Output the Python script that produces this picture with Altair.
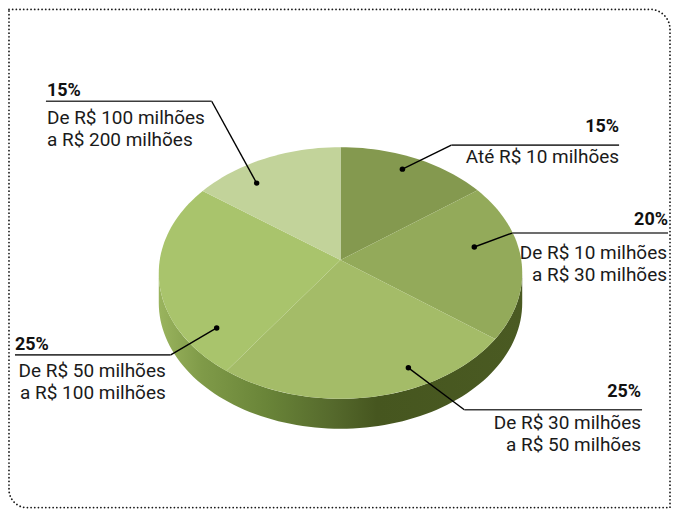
import math
import altair as alt
import pandas as pd

# values
categories = ["Até R$ 10 milhões", "De R$ 10 milhões a R$ 30 milhões", "De R$ 30 milhões a R$ 50 milhões",
              "De R$ 50 milhões a R$ 100 milhões", "De R$ 100 milhões a R$ 200 milhões"]
labels_pct = ["15%", "20%", "25%", "25%", "15%"]
drawn_shares = [13.6, 20.2, 27.0, 25.5, 13.7]
slice_colors = ["#84994f", "#93aa5a", "#a4bc68", "#a9c46c", "#c2d39a"]

# geometry of the tilted pie, in picture pixels
CX, CY, RX, RY, APEX_Y, DEPTH = 341, 273, 182, 126, 260, 30


def rim(turn):
    a = turn * 2 * math.pi
    return CX + RX * math.sin(a), CY - RY * math.cos(a)


rows = []
start = 0.0
for k, share in enumerate(drawn_shares):
    rows.append({"s": categories[k], "i": 0, "x": CX, "y": APEX_Y})
    n = int(share * 2) + 1
    for j in range(n + 1):
        px, py = rim((start + share * j / n) / 100)
        rows.append({"s": categories[k], "i": j + 1, "x": px, "y": py})
    start += share
slices_df = pd.DataFrame(rows)

wall = []
N = 90
for j in range(N + 1):
    px, py = rim(0.25 + 0.5 * j / N)
    wall.append({"i": j, "x": px, "y": py})
for j in range(N + 1):
    px, py = rim(0.75 - 0.5 * j / N)
    wall.append({"i": N + 1 + j, "x": px, "y": py + DEPTH})
wall_df = pd.DataFrame(wall)

X = alt.X("x:Q", scale=alt.Scale(domain=[8, 672], nice=False, zero=False), axis=None)
Y = alt.Y("y:Q", scale=alt.Scale(domain=[508, 8], nice=False, zero=False), axis=None)

wall_fill = alt.Gradient(
    gradient="linear", x1=0, x2=1, y1=0, y2=0,
    stops=[alt.GradientStop(offset=0, color="#9ab45e"),
           alt.GradientStop(offset=0.12, color="#7f9a48"),
           alt.GradientStop(offset=0.3, color="#698438"),
           alt.GradientStop(offset=0.48, color="#55692c"),
           alt.GradientStop(offset=0.6, color="#46561f"),
           alt.GradientStop(offset=1, color="#4a5a22")])
wall_layer = alt.Chart(wall_df).mark_line(interpolate="linear-closed", filled=True, fill=wall_fill, strokeWidth=0).encode(
    x=X, y=Y, order="i:Q")

top = alt.Chart(slices_df).mark_line(interpolate="linear-closed", filled=True, strokeWidth=0).encode(
    x=X, y=Y, order="i:Q",
    color=alt.Color("s:N", scale=alt.Scale(domain=categories, range=slice_colors), legend=None))

# callouts
dots = [(403, 169), (475, 247), (409, 368), (217, 328), (257, 183)]
elbows = [(452, 145), (513, 233), (465, 410), (171, 355), (212, 101)]
rule_ends = [620, 669, 643, 15, 46]
pct_anchor = [(620, 132, "right"), (669, 225, "right"), (642, 397, "right"), (15, 350, "left"), (47, 96, "left")]
label_lines = [["Até R$ 10 milhões"],
               ["De R$ 10 milhões", "a R$ 30 milhões"],
               ["De R$ 30 milhões", "a R$ 50 milhões"],
               ["De R$ 50 milhões", "a R$ 100 milhões"],
               ["De R$ 100 milhões", "a R$ 200 milhões"]]
label_anchor = [(620, 163, "right"), (668, 259, "right"), (642, 429, "right"), (166, 377, "right"), (47, 124, "left")]
LINE_GAP = 22
FONT = "Roboto"

layers = [wall_layer, top]
for k in range(5):
    diag = pd.DataFrame([{"i": 0, "x": dots[k][0], "y": dots[k][1]},
                         {"i": 1, "x": elbows[k][0], "y": elbows[k][1]}])
    layers.append(alt.Chart(diag).mark_line(color="#000000", strokeWidth=1.4).encode(x=X, y=Y, order="i:Q"))
    hor = pd.DataFrame([{"i": 0, "x": elbows[k][0], "y": elbows[k][1]},
                        {"i": 1, "x": rule_ends[k], "y": elbows[k][1]}])
    layers.append(alt.Chart(hor).mark_line(color="#3c3c3c", strokeWidth=1.6).encode(x=X, y=Y, order="i:Q"))
    layers.append(alt.Chart(pd.DataFrame([{"x": dots[k][0], "y": dots[k][1]}])).mark_point(
        filled=True, color="#000000", size=30, opacity=1).encode(x=X, y=Y))
    ax, ay, al = pct_anchor[k]
    layers.append(alt.Chart(pd.DataFrame([{"x": ax, "y": ay, "t": labels_pct[k]}])).mark_text(
        font=FONT, fontSize=18, fontWeight="bold", align=al, baseline="alphabetic", color="#111111").encode(
        x=X, y=Y, text="t:N"))
    ax, ay, al = label_anchor[k]
    for m, line in enumerate(label_lines[k]):
        layers.append(alt.Chart(pd.DataFrame([{"x": ax, "y": ay + m * LINE_GAP, "t": line}])).mark_text(
            font=FONT, fontSize=19, align=al, baseline="alphabetic", color="#1a1a1a").encode(
            x=X, y=Y, text="t:N"))

frame = alt.Chart(pd.DataFrame([{"a": 1}])).mark_rect(
    fillOpacity=0, stroke="#1a1a1a", strokeWidth=1.8, strokeCap="round", strokeDash=[0.01, 3.67],
    cornerRadiusTopRight=20, cornerRadiusBottomLeft=18).encode(
    x=alt.value(1), x2=alt.value(663), y=alt.value(1), y2=alt.value(500))
layers.append(frame)

chart = alt.layer(*layers).properties(width=664, height=500, padding=0, background="#ffffff").configure_view(stroke=None)
chart.save("out.html", embed_options={"renderer": "svg", "actions": False})
